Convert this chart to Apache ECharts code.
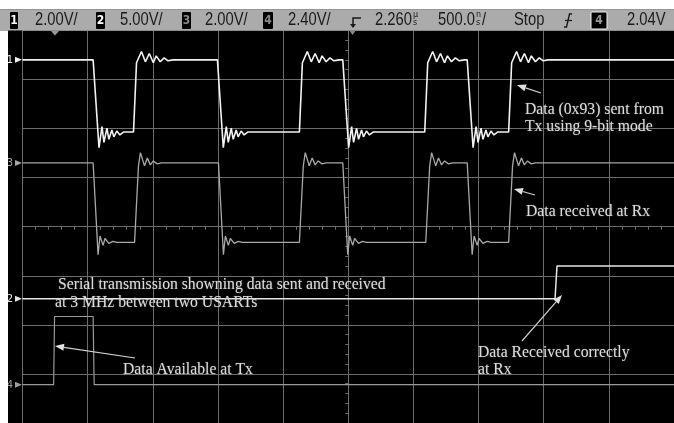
<!DOCTYPE html>
<html><head><meta charset="utf-8">
<script src="https://cdn.jsdelivr.net/npm/echarts@6/dist/echarts.min.js"></script>
<style>html,body{margin:0;padding:0;background:#fff}#c{width:674px;height:423px}</style>
</head><body><div id="c"></div>
<script>
// ---- data (time in ns at 500 ns/div, level in screen divisions, 0 = centre) ----
const timeRange = [-2500, 2500];
const levelRange = [-4, 4];
// Channel 1: Tx data
const ch1Levels = { high: 3.40, low: 1.93 };
const ch1Edges = [['fall', -1958], ['rise', -1648], ['fall', -1004], ['rise', -375], ['fall', -42], ['rise', 587], ['fall', 913], ['rise', 1231]];
const ch1RiseShape = [[0, -1.47], [23, -0.06], [61, 0.17], [91, -0.04], [121, 0.13], [152, -0.06], [174, 0.08], [205, -0.04], [235, 0.04], [265, -0.02], [303, 0]];
const ch1FallShape = [[0, 1.47], [45, -0.32], [68, 0.11], [83, -0.21], [106, 0.08], [121, -0.15], [144, 0.04], [159, -0.10], [182, 0.02], [205, -0.06], [235, 0]];
// Channel 3: Rx data
const ch3Levels = { high: 1.30, low: -0.32 };
const ch3Edges = [['fall', -1958], ['rise', -1640], ['fall', -996], ['rise', -375], ['fall', -42], ['rise', 595], ['fall', 913], ['rise', 1231]];
const ch3RiseShape = [[0, -1.62], [30, -0.06], [45, 0.21], [76, -0.06], [98, 0.10], [121, -0.04], [144, 0.04], [174, -0.02], [205, 0]];
const ch3FallShape = [[0, 1.62], [38, -0.25], [53, 0.13], [76, -0.06], [91, 0.08], [121, -0.02], [152, 0.02], [182, 0]];
// Channel 2: data received flag
const ch2Points = [[-2500, -1.47], [1587, -1.47], [1602, -0.80], [2500, -0.80]];
// Channel 4: data available at Tx
const ch4Points = [[-2500, -3.22], [-2261, -3.22], [-2254, -1.83], [-1958, -1.83], [-1950, -3.22], [2500, -3.22]];

const headerItems = ['2.00V/', '5.00V/', '2.00V/', '2.40V/', '2.260', '500.0', 'Stop', '2.04V'];
const noteTexts = [
  ['Data (0x93) sent from', 'Tx using 9-bit mode'],
  ['Data received at Rx'],
  ['Serial transmission showning data sent and received', 'at 3 MHz between two USARTs'],
  ['Data Available at Tx'],
  ['Data Received correctly', 'at Rx']
];

function buildTrace(levels, edges, riseShape, fallShape) {
  const first = edges[0][0] === 'fall' ? levels.high : levels.low;
  const pts = [[timeRange[0], first]];
  let level = first;
  edges.forEach(([kind, t]) => {
    const shape = kind === 'rise' ? riseShape : fallShape;
    const target = kind === 'rise' ? levels.high : levels.low;
    shape.forEach(([dt, off]) => pts.push([t + dt, +(target + off).toFixed(3)]));
    level = target;
  });
  pts.push([timeRange[1], level]);
  return pts;
}
const ch1Data = buildTrace(ch1Levels, ch1Edges, ch1RiseShape, ch1FallShape);
const ch3Data = buildTrace(ch3Levels, ch3Edges, ch3RiseShape, ch3FallShape);

// ---- layout ----
const chart = echarts.init(document.getElementById('c'));
const gridCol = '#6c6c6c';
const hdrFont = '18px "Liberation Sans","Arimo",sans-serif';
const noteFont = '15.7px "Liberation Serif","DejaVu Serif",serif';
const noteCol = '#dadada';

function txt(text, x, y, font, fill, align) {
  return { type: 'text', z: 100, style: { text, x, y, font, fill, textAlign: align || 'left', align: align || 'left', textVerticalAlign: 'middle', verticalAlign: 'middle' } };
}
function htxt(text, x) {
  return { type: 'text', z: 100, x, y: 20.5, scaleX: 0.82, style: { text, x: 0, y: 0, font: hdrFont, fill: '#1a1a1a', textAlign: 'left', align: 'left', textVerticalAlign: 'middle', verticalAlign: 'middle' } };
}
function note(text, x, y) {
  const t = txt(text, x, y, noteFont, noteCol);
  t.style.textShadowColor = 'rgba(160,160,160,0.6)';
  t.style.textShadowBlur = 1.5;
  return t;
}
function box(x, w, label, fill, stroke) {
  return [
    { type: 'rect', z: 100, shape: { x, y: 12, width: w, height: 17, r: 1 }, style: { fill: '#000', stroke: stroke || null, lineWidth: 1 } },
    txt(label, x + w / 2, 20.5, 'bold 12px "DejaVu Sans Condensed",sans-serif', fill, 'center')
  ];
}
function arrow(t, h) {
  const dx = h[0] - t[0], dy = h[1] - t[1], L = Math.hypot(dx, dy);
  const ux = dx / L, uy = dy / L, nx = -uy, ny = ux;
  const bx = h[0] - ux * 9, by = h[1] - uy * 9;
  return [
    { type: 'line', z: 100, shape: { x1: t[0], y1: t[1], x2: bx, y2: by }, style: { stroke: '#cfcfcf', lineWidth: 1.2 } },
    { type: 'polygon', z: 100, shape: { points: [h, [bx + nx * 3.5, by + ny * 3.5], [bx - nx * 3.5, by - ny * 3.5]] }, style: { fill: '#e0e0e0' } }
  ];
}

const graphics = [
  { type: 'rect', z: 90, shape: { x: 0, y: 0, width: 674, height: 9.5 }, style: { fill: '#fff' } },
  { type: 'rect', z: 90, shape: { x: 0, y: 9.5, width: 674, height: 21 }, style: { fill: '#ababab' } },
  { type: 'rect', z: 90, shape: { x: 0, y: 30.5, width: 8, height: 393 }, style: { fill: '#fff' } },
  ...box(10, 8, '1', '#fff'),
  htxt(headerItems[0], 35),
  ...box(96, 9, '2', '#fff'),
  htxt(headerItems[1], 120),
  ...box(182, 9, '3', '#888'),
  htxt(headerItems[2], 205),
  ...box(263, 10, '4', '#888'),
  htxt(headerItems[3], 288),
  // trigger icon
  { type: 'polyline', z: 100, shape: { points: [[361, 18], [353, 18], [353, 27]] }, style: { stroke: '#1a1a1a', lineWidth: 1.5, fill: null } },
  { type: 'polygon', z: 100, shape: { points: [[350, 24], [356, 24], [353, 28]] }, style: { fill: '#1a1a1a' } },
  { type: 'polygon', z: 100, shape: { points: [[349, 30], [356, 30], [352.5, 35]] }, style: { fill: '#888' } },
  htxt(headerItems[4], 375),
  txt('µ', 413, 15, '8px "DejaVu Sans",sans-serif', '#1a1a1a'),
  txt('s', 413, 23, '8px "DejaVu Sans",sans-serif', '#1a1a1a'),
  htxt(headerItems[5], 438),
  txt('n', 476, 15, '8px "DejaVu Sans",sans-serif', '#1a1a1a'),
  txt('s', 476, 23, '8px "DejaVu Sans",sans-serif', '#1a1a1a'),
  htxt('/', 482),
  htxt(headerItems[6], 514),
  // trigger slope symbol
  { type: 'polyline', z: 100, shape: { points: [[564, 27], [566.5, 27], [569.5, 14], [572, 14]] }, style: { stroke: '#1a1a1a', lineWidth: 1.4, fill: null } },
  { type: 'line', z: 100, shape: { x1: 565, y1: 20.5, x2: 572, y2: 20.5 }, style: { stroke: '#1a1a1a', lineWidth: 1.2 } },
  ...box(591, 16, '4', '#999', '#f4f4f4'),
  htxt(headerItems[7], 627),
  // delay marker at graticule top
  { type: 'polygon', z: 100, shape: { points: [[51, 31], [59, 31], [55, 35.5]] }, style: { fill: '#9a9a9a' } },
  // annotations
  note(noteTexts[0][0], 525, 110),
  note(noteTexts[0][1], 525, 127),
  note(noteTexts[1][0], 526, 212),
  note(noteTexts[2][0], 58, 285),
  note(noteTexts[2][1], 55, 303),
  note(noteTexts[3][0], 123, 370),
  note(noteTexts[4][0], 478, 353),
  note(noteTexts[4][1], 478, 370),
  ...arrow([541, 93], [517, 85]),
  ...arrow([535, 195], [514, 189]),
  ...arrow([135, 358], [55, 346]),
  ...arrow([522, 341], [562, 295])
];

function chanSeries(name, data, color, width, label) {
  return {
    name, type: 'line', data, showSymbol: false, animation: false, clip: true,
    lineStyle: { color, width }, z: 5,
    markPoint: {
      animation: false, silent: true,
      symbol: 'triangle', symbolSize: [6, 7], symbolRotate: -90, symbolOffset: [-4, 0],
      itemStyle: { color },
      label: { show: true, formatter: label, position: 'left', distance: 2, color, fontSize: 11, fontFamily: 'DejaVu Sans Condensed' },
      data: [{ coord: [timeRange[0], data[0][1]] }]
    }
  };
}

chart.setOption({
  animation: false,
  backgroundColor: '#000',
  grid: { left: 22.5, top: 30.4, width: 660, height: 419.2, show: false },
  xAxis: {
    type: 'value', min: timeRange[0], max: timeRange[1], interval: 500,
    axisLine: { onZero: true, lineStyle: { color: gridCol } },
    axisTick: { show: true, length: 3, lineStyle: { color: gridCol } },
    minorTick: { show: true, splitNumber: 5, length: 3, lineStyle: { color: gridCol } },
    axisLabel: { show: false },
    splitLine: { show: true, lineStyle: { color: gridCol, width: 1 } }
  },
  yAxis: {
    type: 'value', min: levelRange[0], max: levelRange[1], interval: 1,
    axisLine: { onZero: true, lineStyle: { color: gridCol } },
    axisTick: { show: true, length: 3, lineStyle: { color: gridCol } },
    minorTick: { show: true, splitNumber: 5, length: 3, lineStyle: { color: gridCol } },
    axisLabel: { show: false },
    splitLine: { show: true, lineStyle: { color: gridCol, width: 1 } }
  },
  graphic: graphics,
  series: [
    chanSeries('Ch4', ch4Points, '#9a9a9a', 1.2, '4'),
    chanSeries('Ch2', ch2Points, '#e6e6e6', 1.5, '2'),
    chanSeries('Ch3', ch3Data, '#a8a8a8', 1.3, '3'),
    chanSeries('Ch1', ch1Data, '#f2f2f2', 1.6, '1')
  ]
});
</script></body></html>
